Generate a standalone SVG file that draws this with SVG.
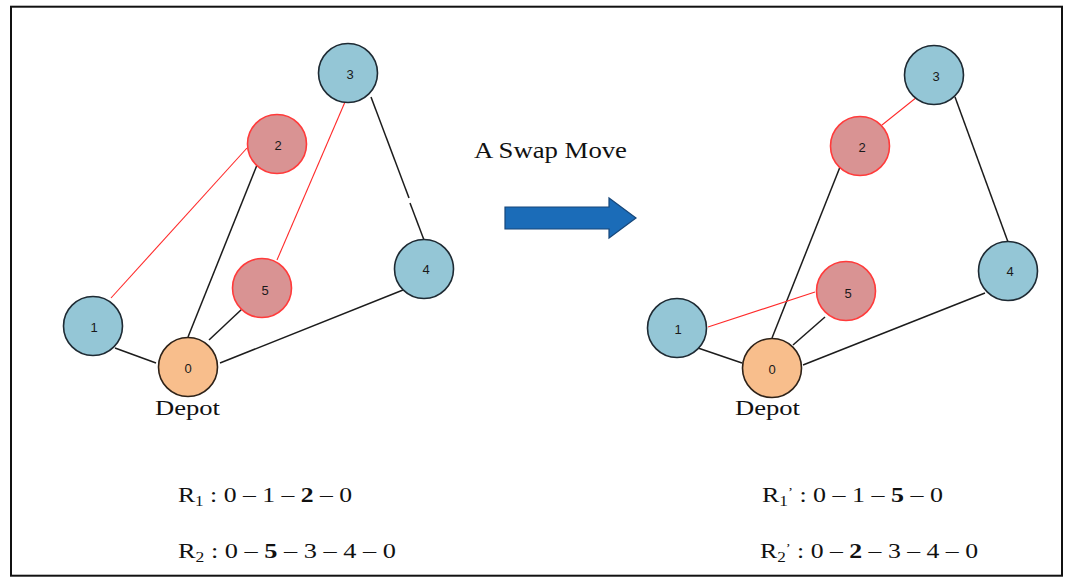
<svg xmlns="http://www.w3.org/2000/svg" width="1073" height="581" viewBox="0 0 1073 581">
<style>
.blue{fill:#94C6D6;stroke:#1E2A33;stroke-width:1.6}
.red{fill:#D99393;stroke:#FF3B3B;stroke-width:1.6}
.depot{fill:#F8BE8C;stroke:#2E2218;stroke-width:1.6}
.lbl{font-family:"Liberation Sans",Arial,sans-serif;font-size:13px;fill:#1a1a1a;text-anchor:middle;dominant-baseline:central}
.blk{stroke:#1c1c1c;stroke-width:1.5;fill:none}
.rl{stroke:#FF2A2A;stroke-width:1.1;fill:none}
.tx{font-family:"Liberation Serif","Times New Roman",serif;fill:#111}
</style>
<rect x="11" y="6.7" width="1051" height="569" fill="none" stroke="#111" stroke-width="2"/>
<g id="connectors">
<line class="rl" x1="111" y1="298" x2="247" y2="148"/>
<line class="blk" x1="257" y1="165" x2="188" y2="337"/>
<line class="rl" x1="348" y1="95" x2="277" y2="260"/>
<line class="blk" x1="371" y1="97" x2="409" y2="198"/>
<line class="blk" x1="410" y1="203" x2="424" y2="240"/>
<line class="blk" x1="209" y1="340" x2="242" y2="309"/>
<line class="blk" x1="220" y1="363" x2="403" y2="290"/>
<line class="blk" x1="115" y1="348" x2="156" y2="363"/>
<line class="rl" x1="882" y1="125" x2="917" y2="97"/>
<line class="blk" x1="955" y1="97" x2="1008" y2="242"/>
<line class="blk" x1="840" y1="167" x2="772" y2="338"/>
<line class="rl" x1="708" y1="327" x2="815" y2="292"/>
<line class="blk" x1="825" y1="317" x2="793" y2="345"/>
<line class="blk" x1="985" y1="293" x2="803" y2="365"/>
<line class="blk" x1="698" y1="348" x2="742" y2="363"/>
</g>
<g id="L0"><circle class="depot" cx="188" cy="367" r="29.5"/><text class="lbl" x="188" y="368">0</text></g>
<g id="L1"><circle class="blue" cx="93" cy="326" r="29.5"/><text class="lbl" x="94" y="327">1</text></g>
<g id="L2"><circle class="red" cx="277" cy="144" r="29.5"/><text class="lbl" x="278" y="145">2</text></g>
<g id="L3"><circle class="blue" cx="348" cy="73" r="29.5"/><text class="lbl" x="350" y="74">3</text></g>
<g id="L4"><circle class="blue" cx="424" cy="269" r="29.5"/><text class="lbl" x="426" y="269">4</text></g>
<g id="L5"><circle class="red" cx="262" cy="288" r="29.5"/><text class="lbl" x="265" y="290">5</text></g>
<g id="R0"><circle class="depot" cx="772" cy="368" r="29.5"/><text class="lbl" x="772" y="369">0</text></g>
<g id="R1"><circle class="blue" cx="677" cy="328" r="29.5"/><text class="lbl" x="678" y="329">1</text></g>
<g id="R2"><circle class="red" cx="860" cy="146" r="29.5"/><text class="lbl" x="862" y="147">2</text></g>
<g id="R3"><circle class="blue" cx="934" cy="75" r="29.5"/><text class="lbl" x="936" y="76">3</text></g>
<g id="R4"><circle class="blue" cx="1008" cy="271" r="29.5"/><text class="lbl" x="1010" y="271">4</text></g>
<g id="R5"><circle class="red" cx="846" cy="291" r="29.5"/><text class="lbl" x="848" y="293">5</text></g>
<g id="move">
<text class="tx" x="474" y="158" font-size="23" textLength="153" lengthAdjust="spacingAndGlyphs">A Swap Move</text>
<path d="M505,207 H609 V198 L636,218 L609,238 V229 H505 Z" fill="#1B6CB8" stroke="#17477A" stroke-width="1.2"/>
</g>
<g id="labels-left">
<text class="tx" x="155" y="415" font-size="21" textLength="65" lengthAdjust="spacingAndGlyphs">Depot</text>
<text class="tx" x="178" y="502" font-size="21" textLength="174" lengthAdjust="spacingAndGlyphs">R<tspan dy="4" font-size="14">1</tspan><tspan dy="-4"> : 0 – 1 – </tspan><tspan font-weight="bold">2</tspan> – 0</text>
<text class="tx" x="178" y="558" font-size="21" textLength="218" lengthAdjust="spacingAndGlyphs">R<tspan dy="4" font-size="14">2</tspan><tspan dy="-4"> : 0 – </tspan><tspan font-weight="bold">5</tspan> – 3 – 4 – 0</text>
</g>
<g id="labels-right">
<text class="tx" x="735" y="415" font-size="21" textLength="65" lengthAdjust="spacingAndGlyphs">Depot</text>
<text class="tx" x="762" y="502" font-size="21" textLength="181" lengthAdjust="spacingAndGlyphs">R<tspan dy="4" font-size="14">1</tspan><tspan dy="-10" font-size="12">’</tspan><tspan dy="6"> : 0 – 1 – </tspan><tspan font-weight="bold">5</tspan> – 0</text>
<text class="tx" x="760" y="558" font-size="21" textLength="218" lengthAdjust="spacingAndGlyphs">R<tspan dy="4" font-size="14">2</tspan><tspan dy="-10" font-size="12">’</tspan><tspan dy="6"> : 0 – </tspan><tspan font-weight="bold">2</tspan> – 3 – 4 – 0</text>
</g>
</svg>
